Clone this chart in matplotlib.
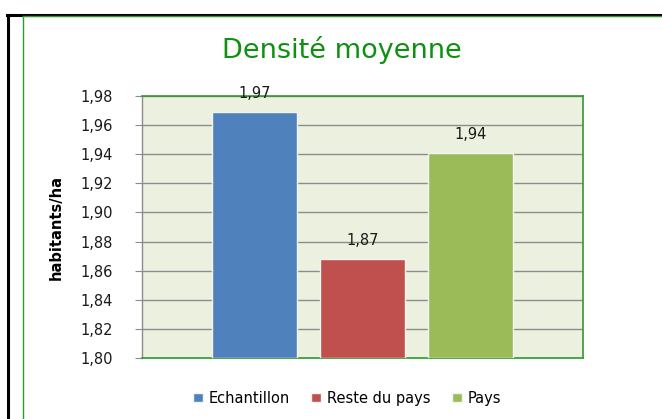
import numpy as np
import matplotlib.pyplot as plt
from matplotlib.lines import Line2D
from matplotlib.ticker import FuncFormatter

series = ["Echantillon", "Reste du pays", "Pays"]
values = [1.969, 1.868, 1.941]
labels = ["1,97", "1,87", "1,94"]
colors = ["#4F81BD", "#C0504D", "#9BBB59"]
yticks = [1.80, 1.82, 1.84, 1.86, 1.88, 1.90, 1.92, 1.94, 1.96, 1.98]

W, H = 662, 419
fig = plt.figure(figsize=(W / 100, H / 100), dpi=100)
fig.patch.set_facecolor("white")

# plot area in pixels: x 142..583, y 96..358
ax = fig.add_axes([142 / W, 1 - 358 / H, (583 - 142) / W, (358 - 96) / H])
ax.set_facecolor("#EBF1DE")

offsets = [-0.245, 0.0, 0.245]
for off, v, lab, c, name in zip(offsets, values, labels, colors, series):
    ax.bar(off, v - 1.80, bottom=1.80, width=0.193, color=c,
           edgecolor="#F4F4F4", linewidth=1.0, label=name, zorder=3)
    ax.text(off, v + 0.0095, lab, ha="center", va="baseline",
            fontsize=10.5, color="#1a1a1a", zorder=4, clip_on=False)

ax.set_xlim(-0.5, 0.5)
ax.set_ylim(1.80, 1.98)
ax.set_yticks(yticks)
ax.yaxis.set_major_formatter(FuncFormatter(lambda v, p: f"{v:.2f}".replace(".", ",")))
ax.set_xticks([])
ax.grid(axis="y", color="#8C8C8C", linewidth=1.0, zorder=1)
ax.tick_params(axis="y", length=5, color="#8C8C8C", labelsize=10.5,
               labelcolor="#1a1a1a", pad=16)
for s in ["top", "bottom", "right"]:
    ax.spines[s].set_color("#2E9B2E")
    ax.spines[s].set_linewidth(1.2)
ax.spines["left"].set_color("#8C8C8C")
ax.spines["left"].set_linewidth(1.0)

ax.set_ylabel("habitants/ha", fontsize=10.5, fontweight="bold", labelpad=12)

fig.text(342 / W, 1 - 50 / H, "Densité moyenne", ha="center", va="center",
         fontsize=19.5, color="#109010")

leg = fig.legend(loc="center", bbox_to_anchor=(347 / W, 1 - 398 / H), ncol=3,
                 frameon=False, fontsize=10.5, handlelength=0.65, handleheight=0.65,
                 handletextpad=0.4, columnspacing=1.5)

# outer frame lines
fig.add_artist(Line2D([7 / W, 1], [1 - 15 / H, 1 - 15 / H], color="black", linewidth=2.2))
fig.add_artist(Line2D([8 / W, 8 / W], [0, 1 - 15 / H], color="black", linewidth=2.2))
fig.add_artist(Line2D([23 / W, 1], [1 - 16.5 / H, 1 - 16.5 / H], color="#2E9B2E", linewidth=1.0))
fig.add_artist(Line2D([23 / W, 23 / W], [0, 1 - 16.5 / H], color="#2E9B2E", linewidth=1.0))

fig.savefig("out.png", dpi=100)
